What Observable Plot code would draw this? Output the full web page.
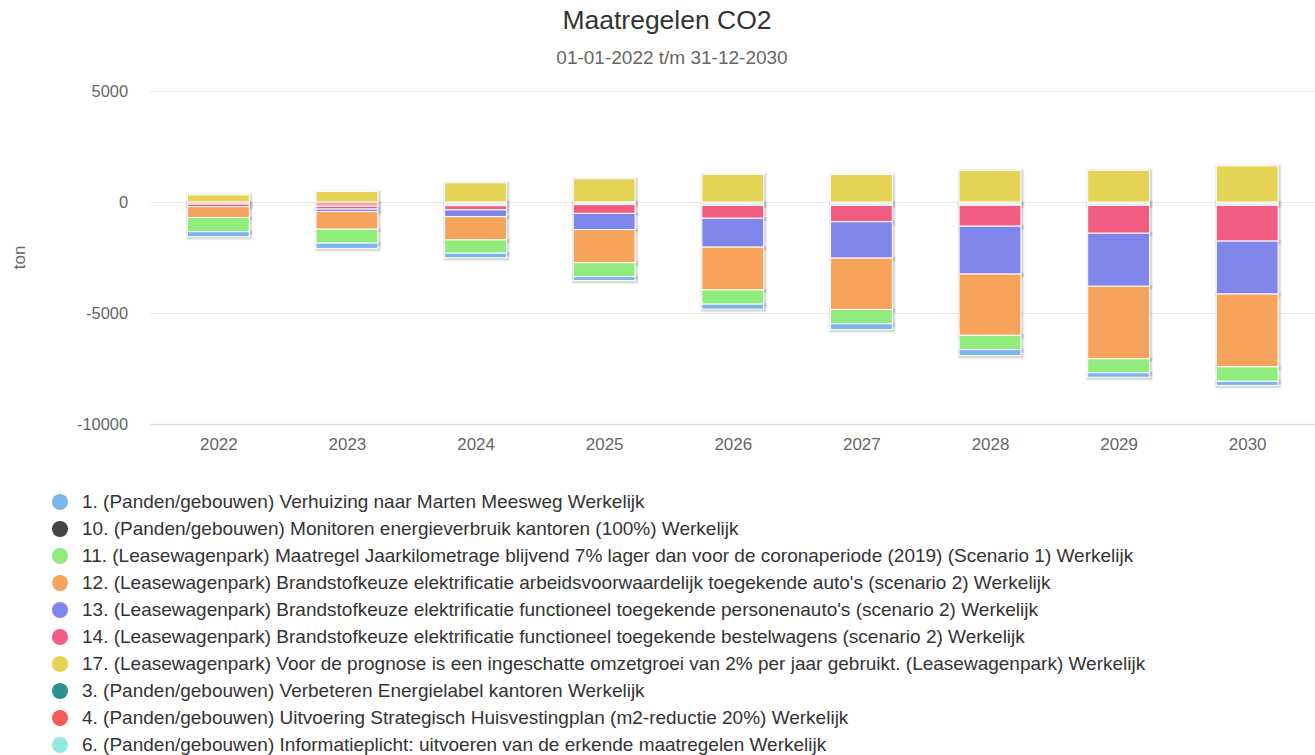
<!DOCTYPE html>
<html>
<head>
<meta charset="utf-8">
<script src="https://cdn.jsdelivr.net/npm/d3@7"></script>
<script src="https://cdn.jsdelivr.net/npm/@observablehq/plot@0.6"></script>
<style>
  html, body { margin: 0; padding: 0; background: #fff; }
  body { width: 1315px; height: 755px; overflow: hidden; position: relative; font-family: "Liberation Sans", Arial, Helvetica, sans-serif; }
  #title { position: absolute; left: 0; width: 1334px; top: 5px; text-align: center; font-size: 26.5px; color: #333; }
  #subtitle { position: absolute; left: 0; width: 1344px; top: 47px; text-align: center; font-size: 19px; color: #666; }
  #chart { position: absolute; left: 0; top: 75px; }
  #legend { position: absolute; left: 52px; top: 488px; font-size: 19px; color: #333; }
  .item { height: 27px; line-height: 27px; white-space: nowrap; display: flex; align-items: center; }
  .dot { width: 16px; height: 16px; border-radius: 50%; margin-right: 14px; flex: none; }
</style>
</head>
<body>
<div id="title">Maatregelen CO2</div>
<div id="subtitle">01-01-2022 t/m 31-12-2030</div>
<div id="chart"></div>
<div id="legend"></div>
<script>
const years = ["2022", "2023", "2024", "2025", "2026", "2027", "2028", "2029", "2030"];
const yTicks = [5000, 0, -5000, -10000];

const seriesNames = [
  "1. (Panden/gebouwen) Verhuizing naar Marten Meesweg Werkelijk",
  "10. (Panden/gebouwen) Monitoren energieverbruik kantoren (100%) Werkelijk",
  "11. (Leasewagenpark) Maatregel Jaarkilometrage blijvend 7% lager dan voor de coronaperiode (2019) (Scenario 1) Werkelijk",
  "12. (Leasewagenpark) Brandstofkeuze elektrificatie arbeidsvoorwaardelijk toegekende auto's (scenario 2) Werkelijk",
  "13. (Leasewagenpark) Brandstofkeuze elektrificatie functioneel toegekende personenauto's (scenario 2) Werkelijk",
  "14. (Leasewagenpark) Brandstofkeuze elektrificatie functioneel toegekende bestelwagens (scenario 2) Werkelijk",
  "17. (Leasewagenpark) Voor de prognose is een ingeschatte omzetgroei van 2% per jaar gebruikt. (Leasewagenpark) Werkelijk",
  "3. (Panden/gebouwen) Verbeteren Energielabel kantoren Werkelijk",
  "4. (Panden/gebouwen) Uitvoering Strategisch Huisvestingplan (m2-reductie 20%) Werkelijk",
  "6. (Panden/gebouwen) Informatieplicht: uitvoeren van de erkende maatregelen Werkelijk"
];

// values per series (same order as seriesNames), one per year
const s1  = [-224, -237, -206, -175, -224, -260, -269, -201, -188];
const s10 = [0, 0, 0, 0, 0, 0, 0, 0, 0];
const s11 = [-637, -628, -601, -628, -641, -646, -642, -631, -649];
const s12 = [-493, -794, -1045, -1493, -1928, -2314, -2762, -3266, -3280];
const s13 = [0, -112, -305, -726, -1300, -1637, -2155, -2389, -2385];
const s14 = [-116, -125, -188, -395, -583, -740, -943, -1257, -1611];
const s17 = [320, 470, 865, 1045, 1245, 1240, 1415, 1430, 1625];
const s3  = [0, 0, 0, 0, 0, 0, 0, 0, 0];
const s4  = [-95, -197, 0, 0, 0, 0, 0, 0, 0];
const s6  = [0, 0, -170, -121, -152, -152, -150, -152, -152];
const seriesValues = [s1, s10, s11, s12, s13, s14, s17, s3, s4, s6];

const legendColors = ["#7cb5ec", "#434348", "#90ed7d", "#f7a35c", "#8085e9", "#f15c80", "#e4d354", "#2b908f", "#f45b5b", "#91e8e1"];
const barColors    = ["#7cb5ec", "#434348", "#90ed7d", "#f7a35c", "#8085e9", "#f15c80", "#e4d354", "#2b908f", "#f8a0a0", "#e2f3ee"];

// stacking order: last series nearest zero
const stackOrder = [9, 8, 7, 6, 5, 4, 3, 2, 1, 0];
const data = [];
years.forEach((year, yi) => {
  stackOrder.forEach(si => {
    const v = seriesValues[si][yi];
    if (v !== 0) data.push({year, series: si, value: v});
  });
});

const stackOpts = {x: "year", y: "value", z: "series"};

const chart = Plot.plot({
  width: 1319,
  height: 400,
  marginTop: 16,
  marginBottom: 50,
  marginLeft: 151,
  marginRight: 0,
  style: {fontSize: "16.5px", fontFamily: "'Liberation Sans', Arial, Helvetica, sans-serif", background: "#fff"},
  x: {domain: years, paddingInner: 0.52, paddingOuter: 0.26, label: null},
  y: {domain: [-10000, 5000], label: null},
  marks: [
    Plot.gridY(yTicks, {stroke: "#e6e6e6", strokeOpacity: 1}),
    Plot.ruleY([-10000], {stroke: "#ccd6eb"}),
    Plot.barY(data, Plot.stackY({...stackOpts, dx: 1, dy: 1, fill: "none", stroke: "#000", strokeOpacity: 0.05, strokeWidth: 5})),
    Plot.barY(data, Plot.stackY({...stackOpts, dx: 1, dy: 1, fill: "none", stroke: "#000", strokeOpacity: 0.1, strokeWidth: 3})),
    Plot.barY(data, Plot.stackY({...stackOpts, fill: d => barColors[d.series], stroke: "#fff", strokeWidth: 1})),
    Plot.axisY(yTicks, {tickSize: 0, tickPadding: 23, tickFormat: d => String(d), fill: "#666", label: null}),
    Plot.axisX({tickSize: 0, tickPadding: 14, fill: "#666", fontSize: 17, label: null})
  ]
});

d3.select(chart).append("text")
  .attr("transform", "translate(25,183) rotate(-90)")
  .attr("text-anchor", "middle")
  .attr("fill", "#666")
  .attr("font-size", 17)
  .text("ton");

document.getElementById("chart").appendChild(chart);

const legend = document.getElementById("legend");
seriesNames.forEach((name, i) => {
  const item = document.createElement("div");
  item.className = "item";
  const dot = document.createElement("span");
  dot.className = "dot";
  dot.style.background = legendColors[i];
  const label = document.createElement("span");
  label.textContent = name;
  item.appendChild(dot);
  item.appendChild(label);
  legend.appendChild(item);
});
</script>
</body>
</html>
